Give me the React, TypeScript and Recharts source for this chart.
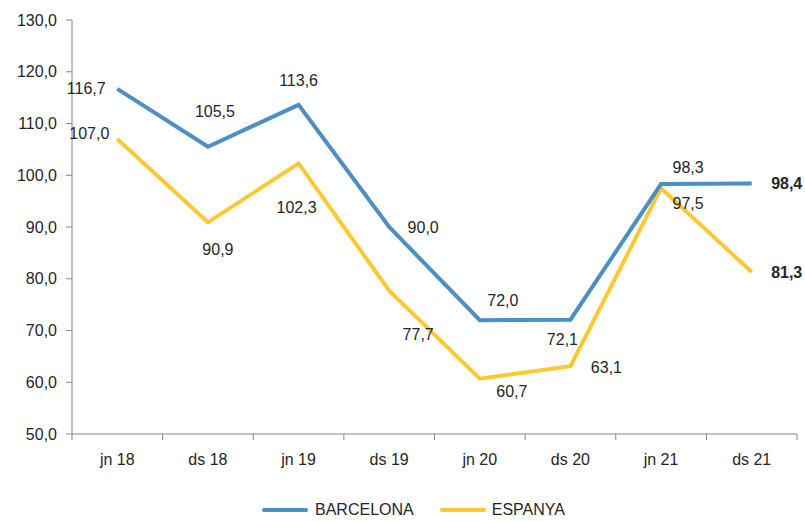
import React from 'react';
import { LineChart, Line, XAxis, YAxis, LabelList, Legend } from 'recharts';

const categories = ['jn 18', 'ds 18', 'jn 19', 'ds 19', 'jn 20', 'ds 20', 'jn 21', 'ds 21'];
const barcelona = [116.7, 105.5, 113.6, 90.0, 72.0, 72.1, 98.3, 98.4];
const espanya = [107.0, 90.9, 102.3, 77.7, 60.7, 63.1, 97.5, 81.3];
const yTicks = [50, 60, 70, 80, 90, 100, 110, 120, 130];
const seriesNames = ['BARCELONA', 'ESPANYA'];

// label offsets (layout only), relative to each point
const barcelonaLabelOffsets = [[-31, 0], [7, -35], [0, -24], [34, 0], [23, -20], [-8, 20], [27, -17], [35, 0]];
const espanyaLabelOffsets = [[-28, -6], [10, 27], [-2, 44], [29, 44], [32, 13], [36, 1], [27, 15], [35, 0]];

const data = categories.map((c, i) => ({ cat: c, barcelona: barcelona[i], espanya: espanya[i] }));

const FONT = '"Liberation Sans", Arial, sans-serif';
const BLUE = '#4b8fc5';
const YELLOW = '#fec832';
const AXIS = '#878787';
const TEXT = '#262626';
const HALF_STEP = 45.3;

const fmt = (v: number) => v.toFixed(1).replace('.', ',');

const makeLabel = (offsets: number[][]) => (props: any) => {
  const { x, y, value, index } = props;
  const [dx, dy] = offsets[index];
  const last = index === categories.length - 1;
  return (
    <text
      x={x + dx}
      y={y + dy}
      textAnchor="middle"
      dominantBaseline="central"
      fontFamily={FONT}
      fontSize={16}
      fontWeight={last ? 'bold' : 'normal'}
      fill={TEXT}
    >
      {fmt(value)}
    </text>
  );
};

const XTick = (props: any) => {
  const { x, y, payload, index } = props;
  const last = index === categories.length - 1;
  return (
    <g>
      <line x1={x - HALF_STEP} y1={y} x2={x - HALF_STEP} y2={y + 6} stroke={AXIS} strokeWidth={1} />
      {last && <line x1={x + HALF_STEP} y1={y} x2={x + HALF_STEP} y2={y + 6} stroke={AXIS} strokeWidth={1} />}
      <text x={x} y={y + 25} textAnchor="middle" dominantBaseline="central" fontFamily={FONT} fontSize={16} fill={TEXT}>
        {payload.value}
      </text>
    </g>
  );
};

const LegendContent = () => (
  <div style={{ height: 24, display: 'flex', alignItems: 'center', fontFamily: FONT, fontSize: 16, color: TEXT, paddingLeft: 262, boxSizing: 'border-box' }}>
    <span style={{ display: 'inline-block', width: 46, height: 4, borderRadius: 2, background: BLUE, marginRight: 7 }} />
    <span style={{ marginRight: 26 }}>{seriesNames[0]}</span>
    <span style={{ display: 'inline-block', width: 46, height: 4, borderRadius: 2, background: YELLOW, marginRight: 6 }} />
    <span>{seriesNames[1]}</span>
  </div>
);

export default function App() {
  return (
    <div style={{ position: 'absolute', left: 0, top: 0, background: '#fff' }}>
      <LineChart width={805} height={522} data={data} margin={{ top: 20, right: 8, left: 0, bottom: 0 }}>
        <XAxis
          dataKey="cat"
          height={64}
          padding={{ left: HALF_STEP, right: HALF_STEP }}
          stroke={AXIS}
          tickLine={false}
          tickSize={0}
          tickMargin={0}
          tick={<XTick />}
          interval={0}
        />
        <YAxis
          width={72}
          domain={[50, 130]}
          ticks={yTicks}
          stroke={AXIS}
          tickSize={6}
          tickMargin={9}
          tickFormatter={fmt}
          tick={{ fill: TEXT, fontFamily: FONT, fontSize: 16 }}
          interval={0}
        />
        <Legend verticalAlign="bottom" content={<LegendContent />} />
        <Line type="linear" dataKey="espanya" stroke={YELLOW} strokeWidth={4} dot={false} isAnimationActive={false}>
          <LabelList dataKey="espanya" content={makeLabel(espanyaLabelOffsets)} />
        </Line>
        <Line type="linear" dataKey="barcelona" stroke={BLUE} strokeWidth={4} dot={false} isAnimationActive={false}>
          <LabelList dataKey="barcelona" content={makeLabel(barcelonaLabelOffsets)} />
        </Line>
      </LineChart>
    </div>
  );
}
